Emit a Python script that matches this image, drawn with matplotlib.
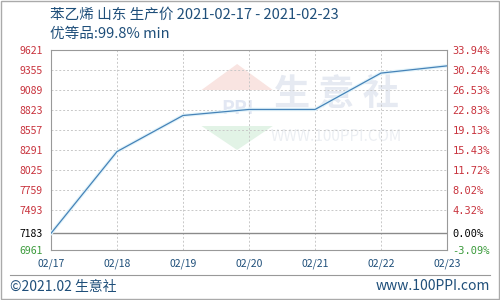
import matplotlib
matplotlib.use("Agg")
from matplotlib import pyplot as plt
from matplotlib.patches import Polygon, Rectangle
import numpy as np

plt.rcParams['font.family'] = ['Noto Sans CJK SC', 'DejaVu Sans']

# data
dates = ["02/17", "02/18", "02/19", "02/20", "02/21", "02/22", "02/23"]
prices = [7183, 8270, 8750, 8830, 8830, 9314, 9410]
base = 7183
y_ticks = [9621, 9355, 9089, 8823, 8557, 8291, 8025, 7759, 7493, 7183, 6961]
y_min, y_max = 6961, 9621

title1 = "苯乙烯 山东 生产价 2021-02-17 - 2021-02-23"
title2 = "优等品:99.8% min"

RED = "#c8323c"
GREEN = "#3a9a3a"
BLUE = "#1f4f7a"

fig = plt.figure(figsize=(5, 3), dpi=100)
ax = fig.add_axes([0.102, 0.1667, 0.792, 0.6666])

x = np.arange(len(dates))

# faint watermark
ax.text(0.72, 0.78, "生 意 社", transform=ax.transAxes, fontsize=26, color="#e6eaf2",
        ha="center", va="center", zorder=0, fontweight="bold")
ax.text(0.72, 0.57, "WWW.100PPI.COM", transform=ax.transAxes, fontsize=11, color="#eceff3",
        ha="center", va="center", zorder=0)
ax.add_patch(Polygon([[0.38, 0.80], [0.47, 0.93], [0.56, 0.80]], closed=True,
                     transform=ax.transAxes, color="#f9e4e1", zorder=0, lw=0))
ax.add_patch(Polygon([[0.38, 0.62], [0.47, 0.50], [0.56, 0.62]], closed=True,
                     transform=ax.transAxes, color="#e2f3e6", zorder=0, lw=0))
ax.text(0.47, 0.71, "PPI", transform=ax.transAxes, fontsize=14, color="#e2e7f3",
        ha="center", va="center", zorder=0, fontweight="bold")

ax.grid(True, color="#c8c8c8", linestyle=(0, (2, 2)), lw=0.7, zorder=1)
ax.set_axisbelow(True)
ax.axhline(base, color="#8a8a8a", lw=1, zorder=2)

ax.plot(x, prices, color="#e2f3fa", lw=2.5, zorder=3)
ax.plot(x, prices, color="#4683b8", lw=0.9, zorder=4)

ax.set_xlim(0, len(dates) - 1)
ax.set_ylim(y_min, y_max)
ax.set_xticks(x)
ax.set_xticklabels(dates)
ax.set_yticks(y_ticks)
ax.set_yticklabels([str(v) for v in y_ticks])
ax.tick_params(length=0, labelsize=7.5, pad=6)
for lab in ax.get_xticklabels():
    lab.set_color(BLUE)
for lab, v in zip(ax.get_yticklabels(), y_ticks):
    lab.set_color("black" if v == base else (GREEN if v < base else RED))

for s in ax.spines.values():
    s.set_color("#999999")

ax2 = ax.twinx()
ax2.set_ylim(y_min, y_max)
ax2.set_yticks(y_ticks)
pct = ["%.2f%%" % ((v - base) / base * 100) for v in y_ticks]
ax2.set_yticklabels(pct)
ax2.tick_params(length=0, labelsize=7.5, pad=4)
for lab, v in zip(ax2.get_yticklabels(), y_ticks):
    lab.set_color("black" if v == base else (GREEN if v < base else RED))
    lab.set_family("DejaVu Sans Mono")
for s in ax2.spines.values():
    s.set_visible(False)

fig.text(0.1, 0.95, title1, color=BLUE, fontsize=10.5, va="center")
fig.text(0.1, 0.888, title2, color=BLUE, fontsize=10.5, va="center")

# footer
fig.add_artist(plt.Line2D([0.02, 0.98], [0.083, 0.083], color="#999999", lw=0.8))
fig.text(0.02, 0.045, "©2021.02 生意社", color=BLUE, fontsize=10, va="center")
fig.text(0.98, 0.045, "www.100PPI.com", color=BLUE, fontsize=10, va="center", ha="right")
fig.add_artist(Rectangle((0.002, 0.003), 0.995, 0.993, fill=False, edgecolor="#aaaaaa",
                         lw=1, transform=fig.transFigure))

fig.savefig("out.png", dpi=100)
